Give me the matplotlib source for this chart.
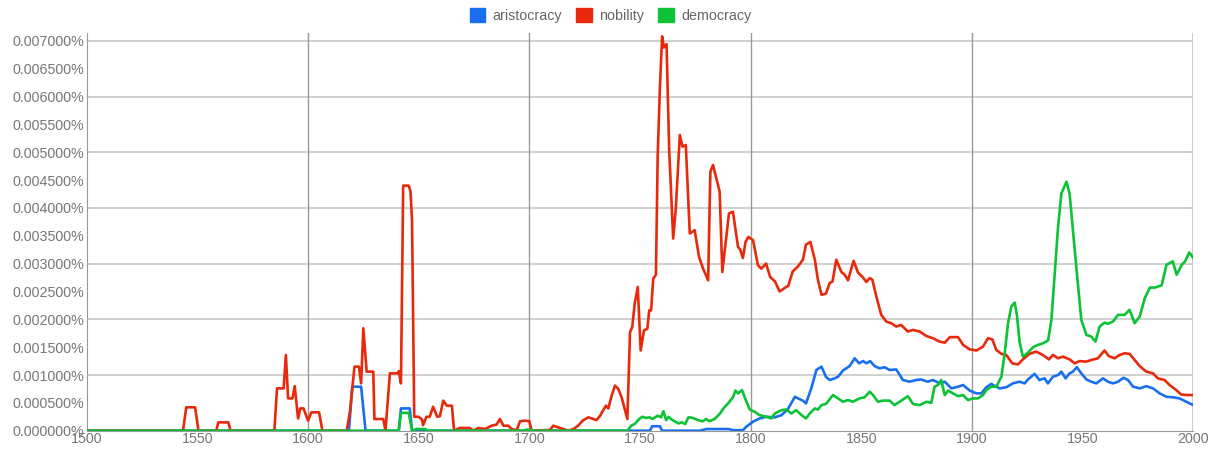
import matplotlib
matplotlib.use("Agg")
import matplotlib.pyplot as plt
from matplotlib.patches import Patch

plt.rcParams['font.family'] = ['Liberation Sans', 'DejaVu Sans']

# frequency in percent
nobility_years = [1500, 1543.5, 1545, 1549, 1550.5, 1558.5, 1559.5, 1564, 1565, 1584.8, 1586, 1589, 1590, 1591,
                  1593, 1594, 1595.5, 1596.5, 1598, 1600, 1601.5, 1605, 1606.5, 1617.5, 1619, 1621, 1623, 1624,
                  1625, 1626.5, 1629.5, 1630, 1634, 1635, 1637, 1640.5, 1641, 1642, 1643, 1645.5, 1646.3, 1647,
                  1648, 1650, 1651.5, 1652, 1653.5, 1655, 1656.5, 1658.4, 1659.6, 1661.1, 1662.7, 1665, 1666,
                  1668.7, 1673, 1674.7, 1677, 1680, 1683, 1685.2, 1686.7, 1688.3, 1690.5, 1692, 1694.3, 1695.8,
                  1698, 1700, 1701, 1707, 1709.3, 1710.8, 1713, 1715.4, 1717.6, 1720, 1722, 1724.4, 1726.7,
                  1729, 1730.4, 1732, 1733.4, 1734.6, 1735.7, 1737.2, 1738.7, 1740.2, 1741.7, 1744.3, 1745.5,
                  1746.5, 1747.6, 1749, 1750.3, 1751.8, 1753.3, 1754.2, 1755, 1756, 1757.2, 1758, 1759, 1760,
                  1760.8, 1762, 1763.2, 1765, 1766.2, 1768, 1769.2, 1770.7, 1772.5, 1774.7, 1776.7, 1778.5,
                  1780.8, 1781.8, 1783, 1786, 1787.2, 1790.2, 1792, 1794.3, 1795.3, 1796.5, 1797.7, 1799,
                  1801.1, 1803.3, 1804.8, 1807, 1808.8, 1811, 1813.1, 1816, 1817, 1819, 1821.4, 1823.6, 1825,
                  1827, 1829, 1830.4, 1832, 1834, 1835.7, 1837, 1838.7, 1841, 1842.5, 1844, 1846.5, 1848.5,
                  1850.8, 1852.3, 1853.8, 1855, 1856.8, 1859, 1861.3, 1863.5, 1865.8, 1868, 1871, 1873.3,
                  1876.4, 1879.4, 1882.4, 1885.4, 1887.7, 1890, 1893.7, 1896, 1899, 1902, 1905, 1907.2, 1909.2,
                  1911, 1913.3, 1915.5, 1918.2, 1920.8, 1923, 1926, 1929, 1932, 1934.8, 1936.6, 1938.9, 1941.1,
                  1944.1, 1946.4, 1948.6, 1951.7, 1953.9, 1956.9, 1959.9, 1961.8, 1964.4, 1966.7, 1969, 1971.2,
                  1973.5, 1975.8, 1978.8, 1981.8, 1984, 1987, 1989.3, 1992.3, 1994.5, 1997.5, 2000]
nobility_values = [0, 0, 0.00042, 0.00042, 0, 0, 0.00015, 0.00015, 0, 0, 0.00076, 0.00076, 0.00136, 0.00058,
                   0.00058, 0.0008, 0.00022, 0.0004, 0.0004, 0.00018, 0.00033, 0.00033, 0, 0, 0.00036, 0.00115,
                   0.00115, 0.00085, 0.00184, 0.00106, 0.00106, 0.00021, 0.00021, 0, 0.00103, 0.00103, 0.00107,
                   0.00085, 0.0044, 0.0044, 0.0043, 0.00378, 0.00025, 0.00025, 0.0002, 0.0001, 0.00025, 0.00025,
                   0.00043, 0.00025, 0.00026, 0.00054, 0.00045, 0.00045, 0, 0.00005, 0.00005, 0, 0.00005,
                   0.00003, 0.00009, 0.00011, 0.00021, 0.00009, 0.00009, 0.00003, 0.00001, 0.00017, 0.00018,
                   0.00017, 0, 0.00001, 0.00001, 0.00009, 0.00006, 0.00003, 0, 0.00003, 0.00009, 0.00019,
                   0.00024, 0.00021, 0.00019, 0.00027, 0.00037, 0.00045, 0.0004, 0.00063, 0.00081, 0.00075,
                   0.0006, 0.00021, 0.00177, 0.00186, 0.00228, 0.00258, 0.00144, 0.0018, 0.00183, 0.00216,
                   0.00216, 0.00273, 0.0028, 0.00494, 0.00616, 0.00708, 0.00688, 0.00694, 0.00503, 0.00345,
                   0.004, 0.00531, 0.0051, 0.00513, 0.00354, 0.0036, 0.00312, 0.00291, 0.0027, 0.00465,
                   0.00477, 0.00429, 0.00285, 0.0039, 0.00393, 0.0033, 0.00325, 0.0031, 0.00339, 0.00348,
                   0.00342, 0.00297, 0.00291, 0.003, 0.00276, 0.00268, 0.0025, 0.00258, 0.0026, 0.00286,
                   0.00295, 0.00307, 0.00334, 0.00339, 0.00307, 0.00271, 0.00244, 0.00246, 0.00265, 0.00268,
                   0.00307, 0.00285, 0.0028, 0.0027, 0.00305, 0.00284, 0.00275, 0.00267, 0.00274, 0.00271,
                   0.00241, 0.00208, 0.00196, 0.00193, 0.00187, 0.0019, 0.00178, 0.00181, 0.00178, 0.0017,
                   0.00166, 0.0016, 0.00158, 0.00168, 0.00168, 0.00154, 0.00146, 0.00144, 0.00151, 0.00166,
                   0.00164, 0.00145, 0.00138, 0.00136, 0.00121, 0.00119, 0.00128, 0.00138, 0.00142, 0.00136,
                   0.00128, 0.00136, 0.0013, 0.00133, 0.00128, 0.00121, 0.00125, 0.00124, 0.00127, 0.0013,
                   0.00144, 0.00134, 0.0013, 0.00136, 0.00139, 0.00138, 0.00127, 0.00116, 0.00106, 0.00103,
                   0.00094, 0.00091, 0.00082, 0.00073, 0.00065, 0.00064, 0.00064]

aristocracy_years = [1500, 1618.5, 1620, 1624, 1626, 1641, 1642, 1646, 1647, 1754.5, 1755.5, 1759, 1760, 1777,
                     1780, 1790, 1792, 1796.5, 1798, 1801, 1804, 1807, 1811, 1814, 1817, 1820, 1821.4, 1823.6,
                     1825, 1827.4, 1829.7, 1832, 1834, 1835.7, 1838, 1839.5, 1841.7, 1844.7, 1847, 1849, 1850.8,
                     1852.3, 1854, 1856, 1858.3, 1860.5, 1862.8, 1865.8, 1868.8, 1871.8, 1874.8, 1877, 1880,
                     1882.4, 1885.4, 1887.7, 1890.7, 1893.7, 1896, 1899, 1902, 1904.2, 1906.5, 1908.7, 1911,
                     1912.5, 1915.5, 1918.5, 1921.5, 1923.8, 1925.3, 1928.3, 1930.5, 1932.8, 1934.3, 1936.6,
                     1938.9, 1940.4, 1942.3, 1944.1, 1945.6, 1947.4, 1949.4, 1951.7, 1953.9, 1956.2, 1959.2,
                     1961.4, 1963.7, 1966, 1968.5, 1970.5, 1972.8, 1975.8, 1978.8, 1981.8, 1984.8, 1987.8,
                     1990.8, 1993.8, 1996.8, 2000]
aristocracy_values = [0, 0, 0.00079, 0.00079, 0, 0, 0.0004, 0.0004, 0, 0, 0.00008, 0.00008, 0, 0, 0.00003,
                      0.00003, 0.00001, 0.00001, 0.00007, 0.00016, 0.00022, 0.00025, 0.00024, 0.00028, 0.0004,
                      0.00061, 0.00058, 0.00054, 0.00049, 0.00076, 0.00109, 0.00115, 0.00097, 0.00091, 0.00094,
                      0.00097, 0.00108, 0.00116, 0.0013, 0.00121, 0.00125, 0.00121, 0.00125, 0.00116, 0.00112,
                      0.00114, 0.00109, 0.0011, 0.00091, 0.00088, 0.00091, 0.00092, 0.00088, 0.00091, 0.00085,
                      0.00088, 0.00076, 0.00079, 0.00082, 0.00072, 0.00067, 0.00067, 0.00078, 0.00084, 0.00079,
                      0.00076, 0.00078, 0.00085, 0.00088, 0.00085, 0.00092, 0.00102, 0.00091, 0.00094, 0.00085,
                      0.00097, 0.001, 0.00106, 0.00094, 0.00103, 0.00106, 0.00114, 0.00103, 0.00092, 0.00088,
                      0.00085, 0.00094, 0.00088, 0.00085, 0.00088, 0.00095, 0.00091, 0.00079, 0.00076, 0.0008,
                      0.00076, 0.00067, 0.00061, 0.0006, 0.00058, 0.00052, 0.00046]

democracy_years = [1500, 1641, 1642, 1645.5, 1647, 1649, 1653, 1654, 1697, 1699, 1702, 1744.4, 1746, 1747.6,
                   1749.6, 1751.1, 1752.6, 1754.2, 1755.7, 1758, 1759.5, 1760.6, 1761.8, 1762.9, 1764, 1765.6,
                   1767.4, 1768.9, 1770.4, 1771.9, 1773.9, 1776.1, 1778.4, 1779.9, 1781.4, 1783.7, 1786,
                   1787.9, 1789.8, 1792, 1793.1, 1794.3, 1796.1, 1797.6, 1799.6, 1801.8, 1804, 1807, 1809.3,
                   1811, 1814, 1816, 1818.4, 1820.6, 1823, 1825, 1826.7, 1829, 1830.4, 1832, 1834, 1837.2,
                   1839.5, 1841.7, 1844, 1846.2, 1849.2, 1851.5, 1853.8, 1855.3, 1857.5, 1859.8, 1862.8, 1865,
                   1867.3, 1869.6, 1871, 1873.4, 1876.4, 1879.4, 1881.6, 1883.1, 1884.6, 1886.1, 1887.7, 1889.2,
                   1891.4, 1893.7, 1896, 1898.2, 1900.5, 1902.7, 1905, 1906.5, 1908.7, 1911, 1913.3, 1914.8,
                   1916.3, 1917.8, 1919.3, 1920.3, 1921.5, 1923, 1925.3, 1927.6, 1929.8, 1932.1, 1934.4, 1935.9,
                   1937.3, 1938.9, 1940.4, 1942.7, 1944.1, 1945.6, 1947.4, 1949.4, 1951.7, 1953.9, 1955.8,
                   1957.7, 1959.9, 1961.4, 1963.7, 1966, 1969, 1971.2, 1973.5, 1975.8, 1978.1, 1980.4, 1982.7,
                   1985.7, 1987.9, 1990.7, 1992.5, 1994.8, 1996.3, 1998.2, 2000]
democracy_values = [0, 0, 0.00032, 0.00032, 0, 0.00003, 0.00003, 0, 0, 0.00002, 0, 0, 0.00009, 0.00012,
                    0.00021, 0.00025, 0.00023, 0.00024, 0.00021, 0.00027, 0.00024, 0.00035, 0.00019, 0.00025,
                    0.00021, 0.00017, 0.00013, 0.00015, 0.00012, 0.00024, 0.00023, 0.00019, 0.00017, 0.00021,
                    0.00017, 0.00021, 0.0003, 0.00041, 0.00049, 0.0006, 0.00072, 0.00067, 0.00073, 0.00057,
                    0.00038, 0.00034, 0.00028, 0.00025, 0.00022, 0.00031, 0.00037, 0.00038, 0.00031, 0.00037,
                    0.00028, 0.00022, 0.00031, 0.0004, 0.00038, 0.00046, 0.00048, 0.00064, 0.00058, 0.00052,
                    0.00055, 0.00052, 0.00058, 0.0006, 0.0007, 0.00064, 0.00052, 0.00054, 0.00054, 0.00046,
                    0.00052, 0.00058, 0.00062, 0.00048, 0.00046, 0.00052, 0.0005, 0.00079, 0.00082, 0.00091,
                    0.00064, 0.00072, 0.00067, 0.00062, 0.00064, 0.00055, 0.00058, 0.00058, 0.00064, 0.00073,
                    0.00079, 0.00079, 0.00097, 0.00139, 0.00193, 0.00223, 0.0023, 0.00208, 0.0016, 0.00133,
                    0.0014, 0.0015, 0.00154, 0.00157, 0.00162, 0.00199, 0.00277, 0.00366, 0.00426, 0.00447,
                    0.00426, 0.0036, 0.00283, 0.00199, 0.00172, 0.00169, 0.0016, 0.00187, 0.00194, 0.00192,
                    0.00196, 0.00208, 0.00208, 0.00217, 0.00193, 0.00205, 0.00238, 0.00257, 0.00257, 0.00261,
                    0.00298, 0.00304, 0.0028, 0.00298, 0.00304, 0.0032, 0.0031]

labels = ['aristocracy', 'nobility', 'democracy']
colors = ['#1a6ff0', '#e8290c', '#0cc236']

x_ticks = list(range(1500, 2001, 50))
y_ticks = [i * 0.0005 for i in range(15)]

fig = plt.figure(figsize=(12.21, 4.51), dpi=100)
ax = fig.add_axes([0.071, 0.045, 0.9063, 0.8818])

# gridlines first so the series sit on top
for v in range(1, 8):
    ax.axhline(v * 0.001, color='#c8c8c8', lw=1.2, zorder=1)
for yr in [1600, 1700, 1800, 1900]:
    ax.axvline(yr, color='#999999', lw=1, zorder=1)
ax.axvline(2000, color='#cccccc', lw=1.5, zorder=1)

ax.plot(aristocracy_years, aristocracy_values, color=colors[0], lw=1.9, zorder=3)
ax.plot(nobility_years, nobility_values, color=colors[1], lw=1.9, zorder=3)
ax.plot(democracy_years, democracy_values, color=colors[2], lw=1.9, zorder=3)

ax.set_xlim(1500, 2000)
ax.set_ylim(0, 0.00714)
ax.set_xticks(x_ticks)
ax.set_yticks(y_ticks)
ax.set_yticklabels([f"{v:.6f}%" for v in y_ticks])
ax.tick_params(axis='both', length=0, labelsize=10.3, labelcolor='#777777')
ax.tick_params(axis='x', pad=1)
ax.tick_params(axis='y', pad=2)

for side in ['top', 'right']:
    ax.spines[side].set_visible(False)
ax.spines['left'].set_color('#999999')
ax.spines['bottom'].set_color('#999999')

handles = [Patch(facecolor=c, edgecolor=c) for c in colors]
leg = fig.legend(handles, labels, loc='center', bbox_to_anchor=(0.5, 0.965), ncol=3, frameon=False,
                 fontsize=10.3, handlelength=1.1, handleheight=1.1, handletextpad=0.5, columnspacing=1.0)
for t in leg.get_texts():
    t.set_color('#666666')

fig.savefig('out.png', dpi=100)
